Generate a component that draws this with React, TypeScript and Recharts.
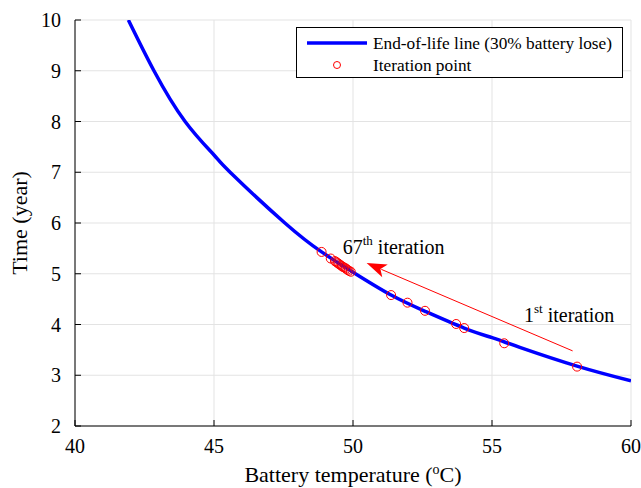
import React from 'react';
import {
    ComposedChart, Line, Scatter, XAxis, YAxis, CartesianGrid,
    ReferenceLine, ReferenceDot
} from 'recharts';

// end-of-life curve (temperature °C, years)
const curveTemp = [41.92, 42.84, 43.96, 45, 45.58, 47.55, 48.87, 50, 51.37, 52.59, 54, 55, 56, 58.06, 60];
const curveYears = [10.0, 9.0, 8.0, 7.34, 7.0, 6.0, 5.43, 5.03, 4.58, 4.26, 3.93, 3.74, 3.55, 3.18, 2.89];

// iteration points (1st at the right, converging to the left)
const iterTemp = [58.06, 55.44, 54.0, 53.71, 52.59, 51.96, 51.37, 49.92, 49.85, 49.8, 49.75, 49.7, 49.65, 49.6, 49.55, 49.5, 49.45, 49.4, 49.35, 49.2, 48.87];
const iterYears = [3.17, 3.63, 3.93, 4.01, 4.27, 4.43, 4.58, 5.04, 5.06, 5.08, 5.1, 5.12, 5.13, 5.15, 5.17, 5.19, 5.21, 5.23, 5.25, 5.3, 5.43];

const xTicks = [40, 45, 50, 55, 60];
const yTicks = [2, 3, 4, 5, 6, 7, 8, 9, 10];

const curveData = curveTemp.map((t, i) => ({ t, y: curveYears[i] }));
const iterData = iterTemp.map((t, i) => ({ t, y: iterYears[i] }));

const FONT = '"Liberation Serif", "Times New Roman", serif';

const ArrowShape = (props: any) => {
    const { x1, y1, x2, y2 } = props;
    const dx = x2 - x1;
    const dy = y2 - y1;
    const len = Math.sqrt(dx * dx + dy * dy);
    const ux = dx / len;
    const uy = dy / len;
    const hl = 20;
    const hw = 7;
    const bx = x2 - ux * hl;
    const by = y2 - uy * hl;
    return (
        <g>
            <line x1={x1} y1={y1} x2={bx + ux * 4} y2={by + uy * 4} stroke="#ff0000" strokeWidth={1} />
            <polygon
                points={`${x2},${y2} ${bx - uy * hw},${by + ux * hw} ${bx + ux * 5},${by + uy * 5} ${bx + uy * hw},${by - ux * hw}`}
                fill="#ff0000"
            />
        </g>
    );
};

const makeLabel = (main: string, sup: string) => (props: any) => (
    <text x={props.cx} y={props.cy} fontFamily={FONT} fontSize={20} fill="#000">
        {main}
        <tspan fontSize={13} dy={-9}>{sup}</tspan>
        <tspan dy={9}>{' iteration'}</tspan>
    </text>
);

const LegendBox = () => (
    <div style={{
        position: 'absolute', left: 296, top: 27, width: 327, height: 51,
        border: '1px solid #000', background: '#fff', boxSizing: 'border-box'
    }}>
        <svg width={327} height={51} style={{ position: 'absolute', left: -1, top: -1 }}>
            <line x1={11} y1={16} x2={71} y2={16} stroke="#0000ff" strokeWidth={3.5} />
            <circle cx={41} cy={38} r={3.5} fill="none" stroke="#ff0000" strokeWidth={1} />
            <text x={77} y={22} fontFamily={FONT} fontSize={17.3} fill="#000">End-of-life line (30% battery lose)</text>
            <text x={77} y={44} fontFamily={FONT} fontSize={17.3} fill="#000">Iteration point</text>
        </svg>
    </div>
);

const AxisLabelX = (props: any) => {
    const { viewBox } = props;
    const cx = viewBox.x + viewBox.width / 2;
    return (
        <text x={cx} y={482} textAnchor="middle" fontFamily={FONT} fontSize={22} fill="#000">
            Battery temperature (<tspan fontSize={14} dy={-8}>o</tspan><tspan dy={8}>C)</tspan>
        </text>
    );
};

export default function App() {
    return (
        <div style={{ position: 'absolute', left: 0, top: 0, width: 641, height: 488, background: '#fff' }}>
            <ComposedChart
                width={641}
                height={488}
                margin={{ top: 20, right: 10, left: 0, bottom: 0 }}
                style={{ fontFamily: FONT }}
            >
                <CartesianGrid stroke="#e3e3e3" strokeWidth={1} />
                <XAxis
                    dataKey="t"
                    type="number"
                    domain={[40, 60]}
                    ticks={xTicks}
                    allowDataOverflow
                    height={62}
                    stroke="#000"
                    tickSize={-6}
                    tickMargin={19}
                    tick={{ fill: '#000', fontSize: 20, fontFamily: FONT }}
                    label={<AxisLabelX />}
                />
                <XAxis
                    xAxisId="top"
                    dataKey="t"
                    type="number"
                    orientation="top"
                    domain={[40, 60]}
                    ticks={xTicks}
                    height={0}
                    mirror
                    stroke="#000"
                    tickSize={6}
                    tick={() => <g />}
                />
                <YAxis
                    dataKey="y"
                    type="number"
                    domain={[2, 10]}
                    ticks={yTicks}
                    allowDataOverflow
                    width={75}
                    stroke="#000"
                    tickSize={-6}
                    tickMargin={20}
                    tick={{ fill: '#000', fontSize: 20, fontFamily: FONT }}
                    label={{ value: 'Time (year)', angle: -90, position: 'insideLeft', offset: 19, style: { fill: '#000', fontSize: 22, fontFamily: FONT, textAnchor: 'middle' } }}
                />
                <YAxis
                    yAxisId="right"
                    orientation="right"
                    type="number"
                    domain={[2, 10]}
                    ticks={yTicks}
                    width={0}
                    mirror
                    stroke="#000"
                    tickSize={6}
                    tick={() => <g />}
                />
                <Line
                    data={curveData}
                    dataKey="y"
                    type="natural"
                    stroke="#0000ff"
                    strokeWidth={3.5}
                    dot={false}
                    isAnimationActive={false}
                />
                <Scatter
                    data={iterData}
                    dataKey="y"
                    shape={(p: any) => <circle cx={p.cx} cy={p.cy} r={4.5} fill="none" stroke="#ff0000" strokeWidth={1} />}
                    isAnimationActive={false}
                />
                <ReferenceLine
                    segment={[{ x: 57.9, y: 3.48 }, { x: 50.49, y: 5.21 }]}
                    shape={ArrowShape}
                />
                <ReferenceDot x={49.63} y={5.39} r={0} shape={makeLabel('67', 'th')} />
                <ReferenceDot x={56.15} y={4.04} r={0} shape={makeLabel('1', 'st')} />
            </ComposedChart>
            <LegendBox />
        </div>
    );
}
